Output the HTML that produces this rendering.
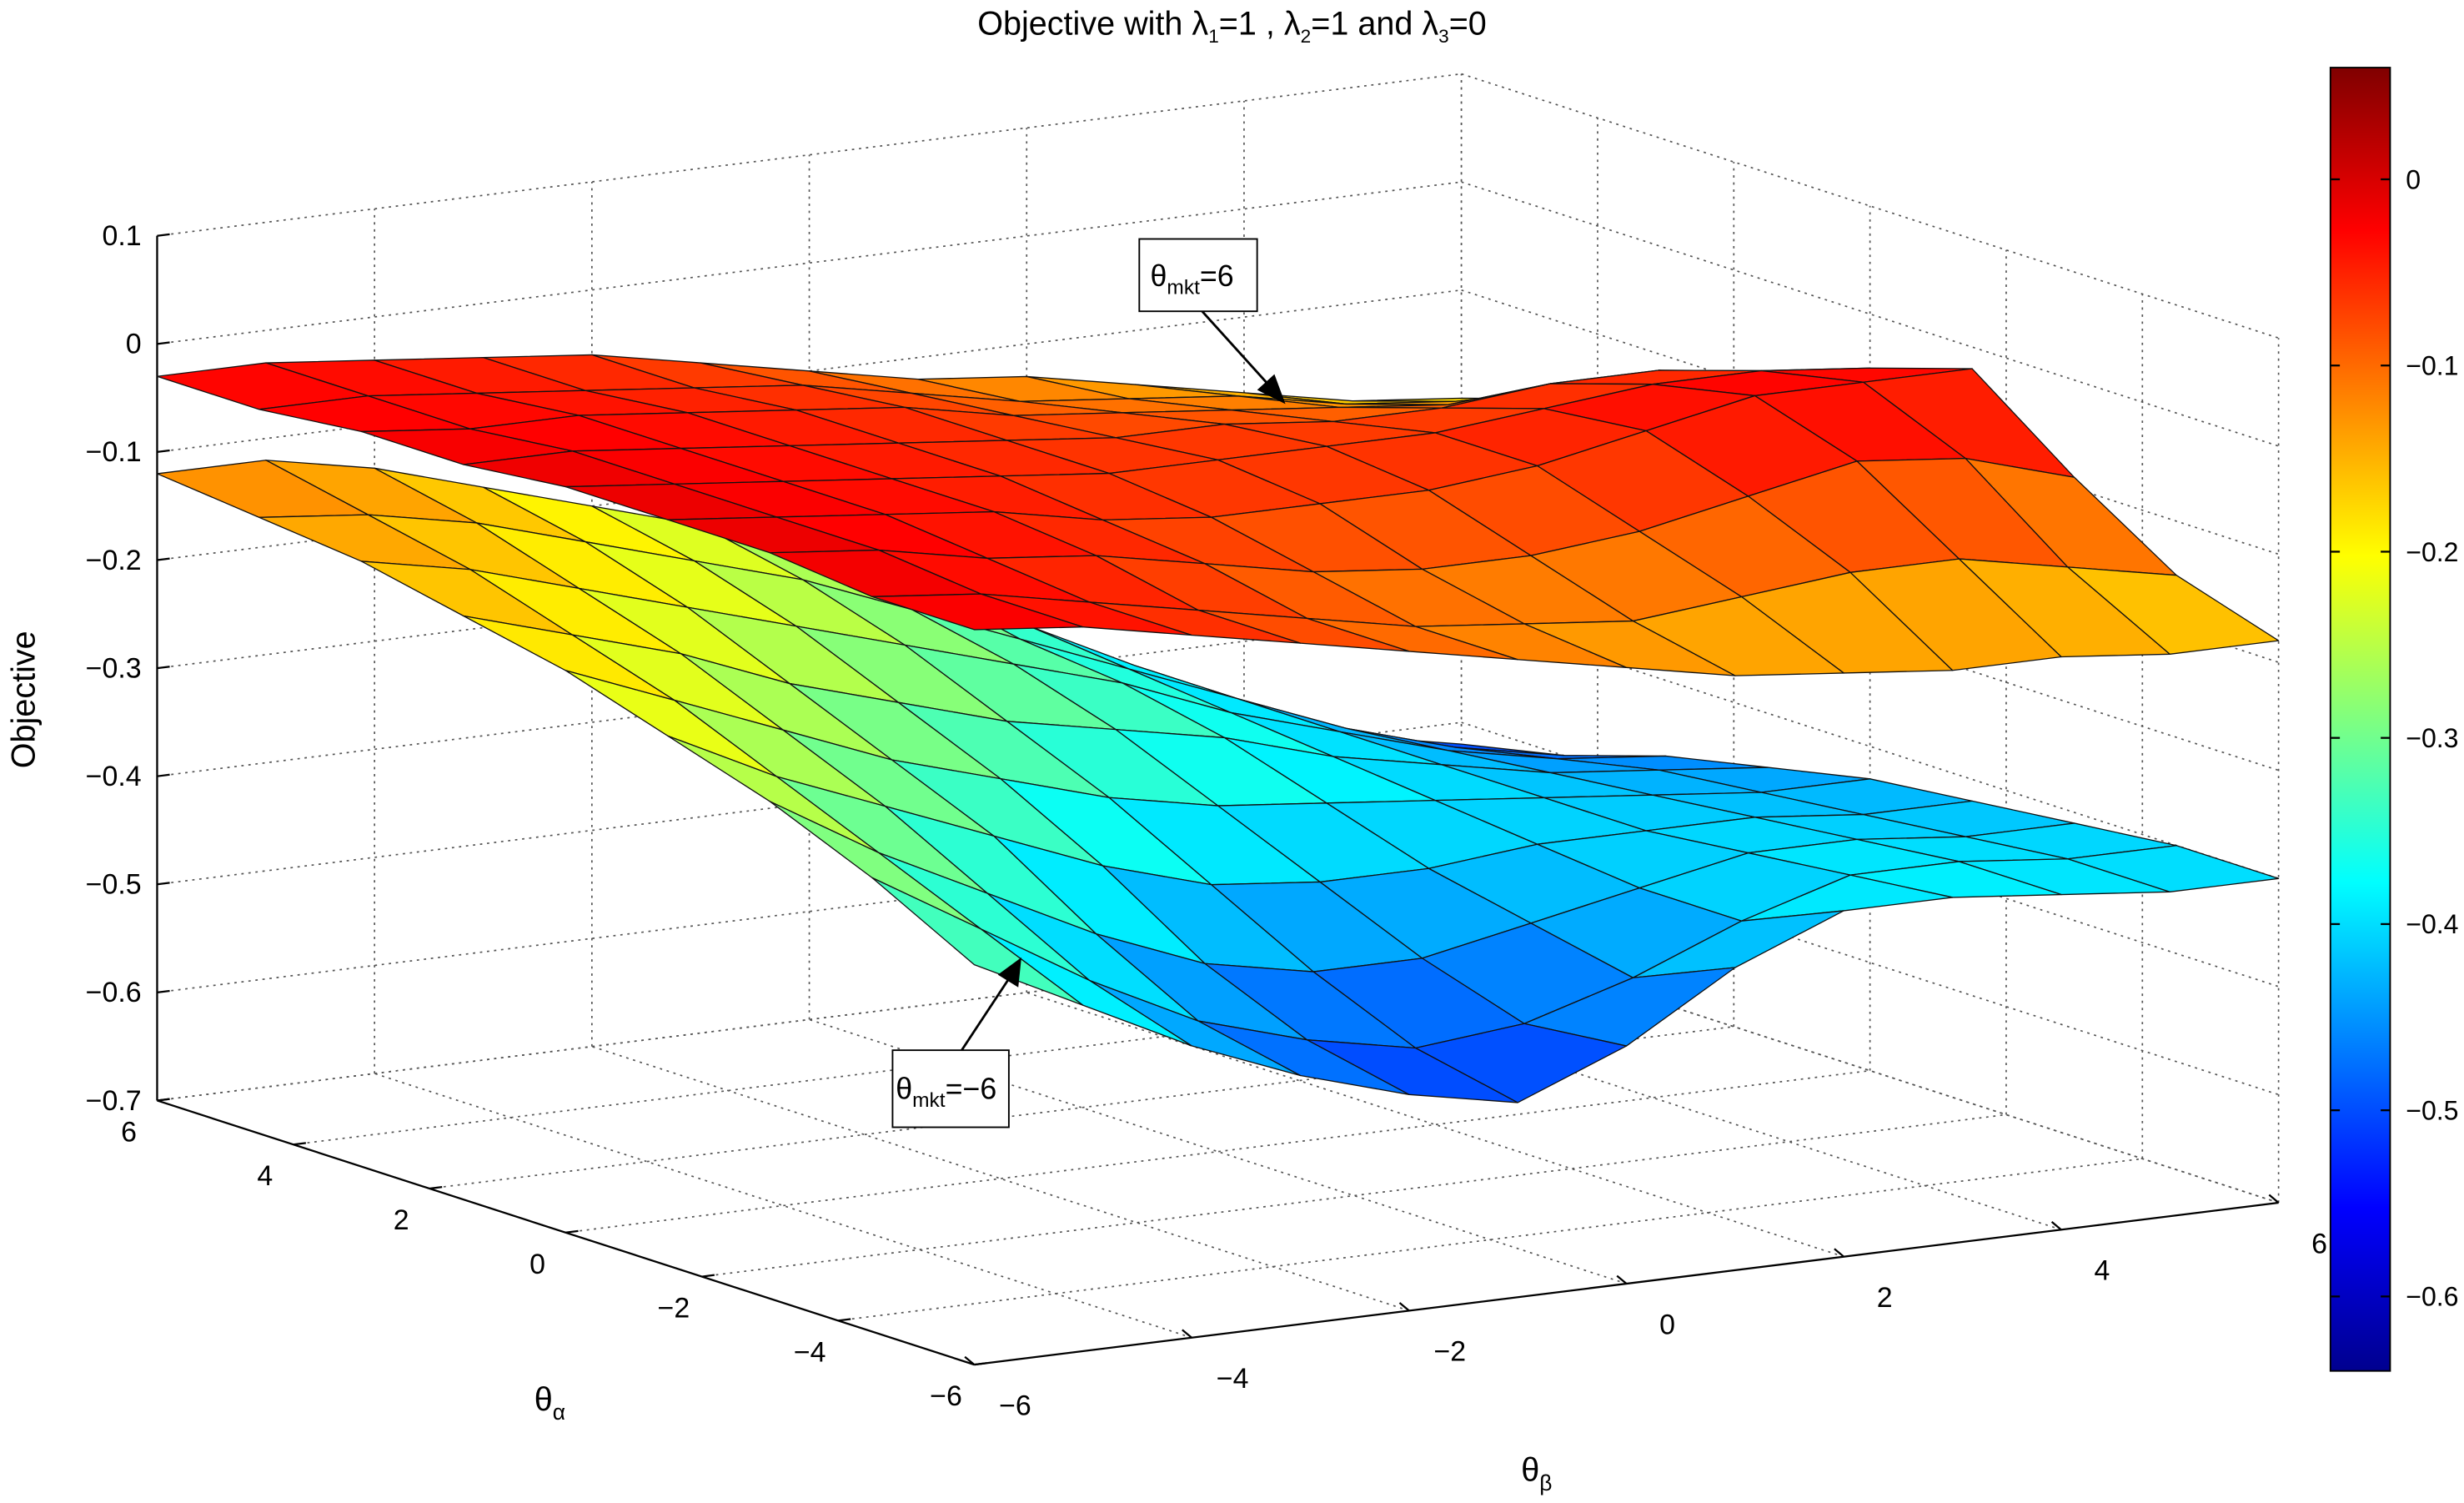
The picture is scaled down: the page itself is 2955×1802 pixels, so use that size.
<!DOCTYPE html>
<html><head><meta charset="utf-8"><style>
html,body{margin:0;padding:0;background:#fff;}
svg{display:block;font-family:"Liberation Sans",sans-serif;}
</style></head><body>
<svg id="chart" width="2955" height="1802" viewBox="0 0 1568 956" preserveAspectRatio="none" xmlns="http://www.w3.org/2000/svg">
<defs>
<linearGradient id="jet" x1="0" y1="1" x2="0" y2="0">
<stop offset="0" stop-color="#00008f"/><stop offset="0.125" stop-color="#0000ff"/><stop offset="0.375" stop-color="#00ffff"/><stop offset="0.625" stop-color="#ffff00"/><stop offset="0.875" stop-color="#ff0000"/><stop offset="1" stop-color="#800000"/>
</linearGradient>
</defs>
<text x="784" y="22" font-size="21" text-anchor="middle">Objective with λ<tspan font-size="12" dy="5">1</tspan><tspan dy="-5">=1 , λ</tspan><tspan font-size="12" dy="5">2</tspan><tspan dy="-5">=1 and λ</tspan><tspan font-size="12" dy="5">3</tspan><tspan dy="-5">=0</tspan></text>
<g id="grid"></g>
<g id="axes"></g>
<g id="surfaces"></g>
<g id="annot">
<line x1="765" y1="198" x2="812" y2="250" stroke="#000" stroke-width="1.5"/>
<polygon points="818,257 800,248 811,238" fill="#000"/>
<rect x="725" y="152" width="75" height="46" fill="#fff" stroke="#000"/>
<text x="732" y="182" font-size="19">θ<tspan font-size="13" dy="5">mkt</tspan><tspan dy="-5">=6</tspan></text>
<line x1="612" y1="668" x2="645" y2="618" stroke="#000" stroke-width="1.5"/>
<polygon points="650,609 648,628 635,620" fill="#000"/>
<rect x="568" y="668" width="74" height="49" fill="#fff" stroke="#000"/>
<text x="570" y="699" font-size="19">θ<tspan font-size="13" dy="5">mkt</tspan><tspan dy="-5">=−6</tspan></text>
</g>
<g id="cbar">
<rect x="1483" y="43" width="38" height="829" fill="url(#jet)" stroke="#000" stroke-width="1"/>
</g>
<text transform="translate(22,445) rotate(-90)" font-size="21" text-anchor="middle">Objective</text>
<text x="340" y="897" font-size="21">θ<tspan font-size="14" dy="6">α</tspan></text>
<text x="968" y="942" font-size="21">θ<tspan font-size="14" dy="6">β</tspan></text>
</svg>
<script>
const alphas = [6, 4.5, 3, 1.5, 0, -1.5, -3, -4.5, -6];
const betas = [-6, -5, -4, -3, -2, -1, 0, 1, 2, 3, 4, 5, 6];
const upperZ = [
[-0.03,-0.03,-0.04,-0.05,-0.06,-0.08,-0.10,-0.12,-0.13,-0.15,-0.17,-0.19,-0.20],
[-0.03,-0.03,-0.04,-0.05,-0.06,-0.07,-0.09,-0.11,-0.12,-0.13,-0.15,-0.16,-0.17],
[-0.02,-0.03,-0.03,-0.04,-0.05,-0.06,-0.08,-0.09,-0.10,-0.11,-0.12,-0.12,-0.13],
[-0.02,-0.02,-0.03,-0.04,-0.05,-0.06,-0.07,-0.07,-0.08,-0.08,-0.07,-0.07,-0.09],
[-0.01,-0.02,-0.03,-0.04,-0.05,-0.06,-0.06,-0.06,-0.06,-0.05,-0.04,-0.04,-0.05],
[-0.01,-0.02,-0.03,-0.04,-0.06,-0.07,-0.07,-0.07,-0.06,-0.04,-0.02,-0.02,-0.02],
[-0.01,-0.02,-0.04,-0.05,-0.07,-0.09,-0.10,-0.10,-0.09,-0.07,-0.05,-0.06,-0.09],
[-0.02,-0.03,-0.05,-0.07,-0.09,-0.11,-0.12,-0.13,-0.12,-0.11,-0.11,-0.13,-0.15],
[-0.02,-0.03,-0.05,-0.07,-0.09,-0.11,-0.13,-0.15,-0.16,-0.17,-0.17,-0.18,-0.18]
];
const lowerZ = [
[-0.12,-0.12,-0.14,-0.17,-0.20,-0.23,-0.27,-0.31,-0.36,-0.41,-0.46,-0.50,-0.52],
[-0.13,-0.14,-0.16,-0.19,-0.22,-0.25,-0.29,-0.33,-0.37,-0.41,-0.45,-0.48,-0.50],
[-0.14,-0.16,-0.19,-0.22,-0.25,-0.28,-0.31,-0.34,-0.38,-0.41,-0.44,-0.46,-0.47],
[-0.16,-0.19,-0.22,-0.26,-0.29,-0.32,-0.34,-0.36,-0.39,-0.41,-0.43,-0.44,-0.45],
[-0.18,-0.22,-0.26,-0.30,-0.33,-0.36,-0.38,-0.39,-0.40,-0.41,-0.42,-0.43,-0.43],
[-0.21,-0.26,-0.30,-0.34,-0.38,-0.41,-0.42,-0.42,-0.41,-0.41,-0.41,-0.42,-0.42],
[-0.24,-0.30,-0.35,-0.40,-0.44,-0.46,-0.46,-0.44,-0.42,-0.40,-0.40,-0.41,-0.41],
[-0.28,-0.34,-0.40,-0.45,-0.48,-0.50,-0.49,-0.46,-0.42,-0.39,-0.39,-0.40,-0.40],
[-0.33,-0.38,-0.43,-0.47,-0.50,-0.52,-0.48,-0.42,-0.38,-0.38,-0.39,-0.40,-0.40]
];
const zTicks = [0.1, 0, -0.1, -0.2, -0.3, -0.4, -0.5, -0.6, -0.7];
const abTicks = [-6, -4, -2, 0, 2, 4, 6];
const cbarTicks = [0, -0.1, -0.2, -0.3, -0.4, -0.5, -0.6];
const cMin = -0.64, cMax = 0.06;

const NS = "http://www.w3.org/2000/svg";
function P(a, b, z) {
  const u = (a + 6) / 12, v = (b + 6) / 12;
  return [620 + v * 830 - u * 520, 868 - v * 103 - u * 168 - (z + 0.7) * 687.5];
}
function mk(tag, attrs, parent) {
  const e = document.createElementNS(NS, tag);
  for (const k in attrs) e.setAttribute(k, attrs[k]);
  parent.appendChild(e);
  return e;
}
function fmt(v) { return (v < 0 ? "−" : "") + String(Math.abs(v)); }
function jet(t) {
  t = Math.max(0, Math.min(1, t));
  const c = x => Math.round(255 * Math.max(0, Math.min(1, x)));
  return `rgb(${c(1.5 - Math.abs(4 * t - 3))},${c(1.5 - Math.abs(4 * t - 2))},${c(1.5 - Math.abs(4 * t - 1))})`;
}
const grid = document.getElementById("grid");
const axes = document.getElementById("axes");
const dash = { stroke: "#555", "stroke-width": 0.9, "stroke-dasharray": "1.5,3", fill: "none" };
function line(p, q, attrs, parent) {
  return mk("line", Object.assign({ x1: p[0], y1: p[1], x2: q[0], y2: q[1] }, attrs), parent);
}
zTicks.forEach(z => {
  const l1 = line(P(6, -6, z), P(6, 6, z), dash, grid);
  
  
  const l2 = line(P(6, 6, z), P(-6, 6, z), dash, grid);
  
  
});
abTicks.forEach(t => {
  const l1 = line(P(6, t, -0.7), P(6, t, 0.1), dash, grid);
  
  
  const l2 = line(P(-6, t, -0.7), P(6, t, -0.7), dash, grid);
  
  
  const l3 = line(P(t, 6, -0.7), P(t, 6, 0.1), dash, grid);
  
  
  const l4 = line(P(t, -6, -0.7), P(t, 6, -0.7), dash, grid);
  
  
});
const solid = { stroke: "#000", "stroke-width": 1.2 };
const za = line(P(6, -6, -0.7), P(6, -6, 0.1), solid, axes);


const aa = line(P(6, -6, -0.7), P(-6, -6, -0.7), solid, axes);


const ba = line(P(-6, -6, -0.7), P(-6, 6, -0.7), solid, axes);


zTicks.forEach(z => {
  const p = P(6, -6, z);
  line(p, [p[0] + 8, p[1] - 1], solid, axes);
  const t = mk("text", { x: p[0] - 10, y: p[1] + 6, "font-size": 18, "text-anchor": "end" }, axes);
  t.textContent = fmt(z);
  
  
});
abTicks.forEach(v => {
  const p = P(v, -6, -0.7);
  line(p, [p[0] + 8, p[1] - 1], solid, axes);
  const t = mk("text", { x: p[0] - 18, y: p[1] + 26, "font-size": 18, "text-anchor": "middle" }, axes);
  t.textContent = fmt(v);
  
  
  const q = P(-6, v, -0.7);
  line(q, [q[0] - 6, q[1] - 5], solid, axes);
  const t2 = mk("text", { x: q[0] + 26, y: q[1] + 32, "font-size": 18, "text-anchor": "middle" }, axes);
  t2.textContent = fmt(v);
  
  
});
const surf = document.getElementById("surfaces");
function drawSurface(Z, name) {
  const faces = [];
  for (let i = 0; i < alphas.length - 1; i++) for (let j = 0; j < betas.length - 1; j++) {
    const pts = [[i, j], [i, j + 1], [i + 1, j + 1], [i + 1, j]].map(([a, b]) => P(alphas[a], betas[b], Z[a][b]));
    const zc = (Z[i][j] + Z[i][j + 1] + Z[i + 1][j + 1] + Z[i + 1][j]) / 4;
    const ac = (alphas[i] + alphas[i + 1]) / 2, bc = (betas[j] + betas[j + 1]) / 2;
    const depth = P(ac, bc, -0.7)[1];
    faces.push({ pts, zc, depth });
  }
  faces.sort((a, b) => a.depth - b.depth);
  faces.forEach(f => {
    const e = mk("polygon", { points: f.pts.map(p => p[0].toFixed(1) + "," + p[1].toFixed(1)).join(" "), fill: jet((f.zc - cMin) / (cMax - cMin)), stroke: "#111", "stroke-width": 0.7, "stroke-linejoin": "round" }, surf);
    
    
  });
}
drawSurface(lowerZ, "lower-surface");
drawSurface(upperZ, "upper-surface");
const cb = document.getElementById("cbar");
cbarTicks.forEach(v => {
  const y = 872 - (v - cMin) / (cMax - cMin) * 829;
  line([1483, y], [1489, y], solid, cb);
  line([1515, y], [1521, y], solid, cb);
  const t = mk("text", { x: 1531, y: y + 6, "font-size": 17 }, cb);
  t.textContent = fmt(v);
  
  
});
</script>
</body></html>
